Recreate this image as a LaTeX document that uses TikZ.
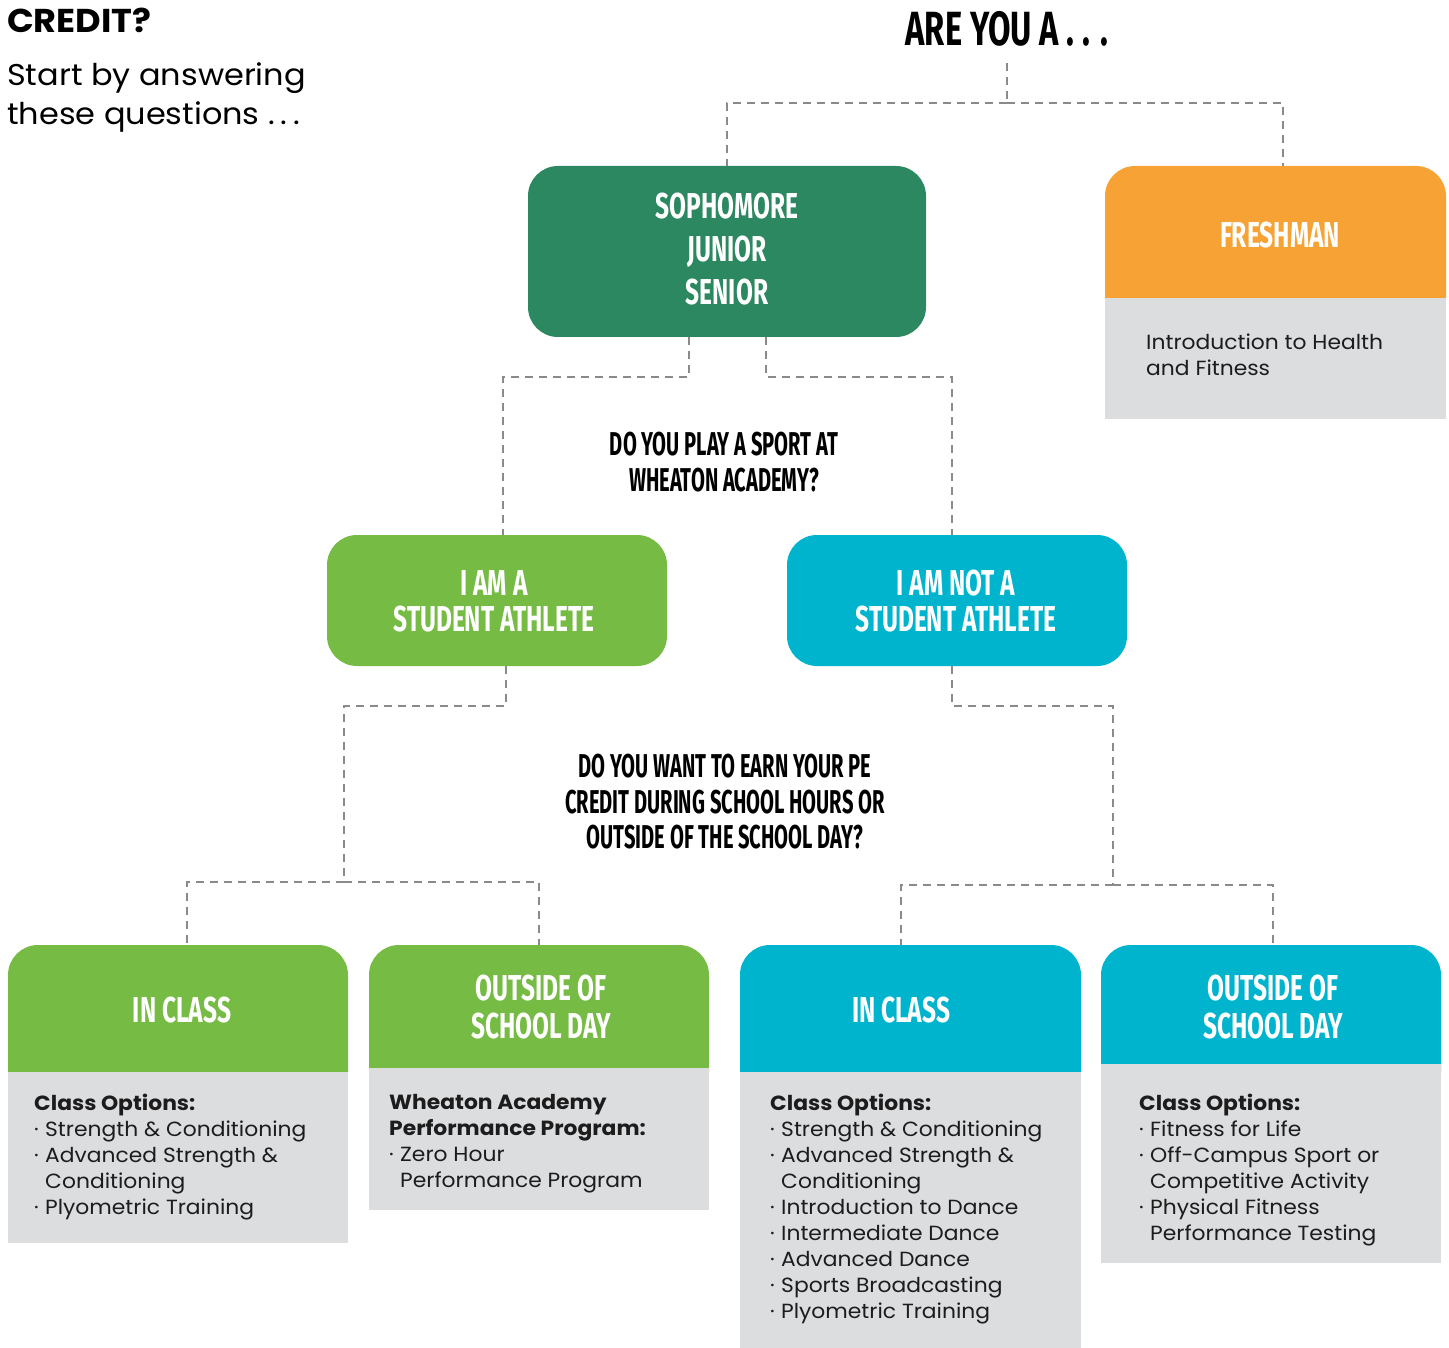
\documentclass[tikz,border=0pt]{standalone}
\usepackage{fontspec}
\setmainfont[FakeStretch=1.065]{Poppins}
\newfontfamily\headfont[FakeStretch=0.68]{Fira Sans}
\newfontfamily\qfont[FakeStretch=0.61]{Fira Sans}
\definecolor{dgreen}{RGB}{44,136,96}
\definecolor{lgreen}{RGB}{118,187,68}
\definecolor{cyanb}{RGB}{0,180,206}
\definecolor{orangeb}{RGB}{247,162,52}
\definecolor{greyb}{RGB}{220,221,223}
\definecolor{lineg}{RGB}{138,138,138}
\definecolor{ink}{RGB}{28,28,28}
\newcommand\bul{\makebox[11pt][l]{·}}
\newcommand\ind{\hspace*{11pt}}
\newcommand\capst{\rule{0pt}{25pt}}
\newcommand\qst{\rule{0pt}{23pt}}
\newcommand\bodyst{\rule{0pt}{15pt}}
\begin{document}
\begin{tikzpicture}[x=1pt,y=-1pt,
  conn/.style={draw=lineg, line width=2pt, dash pattern=on 8pt off 6pt},
  boxr/.style={rectangle, rounded corners=30pt, inner sep=0pt, draw=none},
  greyrect/.style={rectangle, fill=greyb, inner sep=0pt, draw=none},
  hd/.style={font=\headfont\bfseries\fontsize{36}{38}\selectfont, text=white, align=center, anchor=north, inner sep=0pt},
  qtext/.style={font=\qfont\bfseries\fontsize{33}{36}\selectfont, text=black, align=center, anchor=north, inner sep=0pt},
  bodyt/.style={font=\fontsize{20.5}{26}\selectfont, text=ink, align=left, anchor=north west, inner sep=0pt}]
\useasboundingbox (0,0) rectangle (1449,1348);

% titles
\node[anchor=base west, inner sep=0pt, font=\bfseries\fontsize{33}{40}\selectfont, text=black] (credit) at (7,33) {CREDIT?};
\node[anchor=north west, inner sep=0pt, align=left, font=\fontsize{30}{39}\selectfont, text=black] (start) at (7,62) {\rule{0pt}{21.5pt}Start by answering\\these questions .\kern6pt.\kern6pt.};
\node[anchor=base, inner sep=0pt, font=\headfont\bfseries\fontsize{48}{50}\selectfont, text=black] (are) at (1007,46) {ARE YOU A . . .};

% level 1
\node[boxr, fill=dgreen, minimum width=398, minimum height=171] (soph) at (727,251.5) {};
\node[hd, font=\headfont\bfseries\fontsize{36}{43}\selectfont] (sopht) at (727,193) {\capst SOPHOMORE\\JUNIOR\\SENIOR};

\node[boxr, fill=orangeb, minimum width=341, minimum height=162] (fresh) at (1275.5,247) {};
\node[greyrect, minimum width=341, minimum height=121] (freshb) at (1275.5,358.5) {};
\node[hd] (fresht) at (1280,222) {\capst FRESHMAN};
\node[bodyt] (freshx) at (1146,334) {\bodyst Introduction to Health\\and Fitness};

% question 1
\node[qtext] (q1) at (724,432) {\qst DO YOU PLAY A SPORT AT\\WHEATON ACADEMY?};

% level 2
\node[boxr, fill=lgreen, minimum width=340, minimum height=131] (ath) at (497,600.5) {};
\node[hd, font=\headfont\bfseries\fontsize{36}{36}\selectfont] (atht) at (494,570) {\capst I AM A\\STUDENT ATHLETE};
\node[boxr, fill=cyanb, minimum width=340, minimum height=131] (nath) at (957,600.5) {};
\node[hd, font=\headfont\bfseries\fontsize{36}{36}\selectfont] (natht) at (956,570) {\capst I AM NOT A\\STUDENT ATHLETE};

% question 2
\node[qtext, font=\qfont\bfseries\fontsize{33}{35.5}\selectfont] (q2) at (725,754) {\qst DO YOU WANT TO EARN YOUR PE\\CREDIT DURING SCHOOL HOURS OR\\OUTSIDE OF THE SCHOOL DAY?};

% level 3 headers
\node[boxr, fill=lgreen, minimum width=340, minimum height=157] (ic1) at (178,1023.5) {};
\node[boxr, fill=lgreen, minimum width=340, minimum height=157] (os1) at (539,1023.5) {};
\node[boxr, fill=cyanb, minimum width=341, minimum height=157] (ic2) at (910.5,1023.5) {};
\node[boxr, fill=cyanb, minimum width=340, minimum height=157] (os2) at (1271,1023.5) {};

% level 3 bodies
\node[greyrect, minimum width=340, minimum height=171] (ic1b) at (178,1157.5) {};
\node[greyrect, minimum width=340, minimum height=142] (os1b) at (539,1139) {};
\node[greyrect, minimum width=341, minimum height=276] (ic2b) at (910.5,1210) {};
\node[greyrect, minimum width=340, minimum height=199] (os2b) at (1271,1163.5) {};

% level 3 header texts
\node[hd] (ic1t) at (182,997) {\capst IN CLASS};
\node[hd] (os1t) at (541,975) {\capst OUTSIDE OF\\SCHOOL DAY};
\node[hd] (ic2t) at (901,997) {\capst IN CLASS};
\node[hd] (os2t) at (1273,975) {\capst OUTSIDE OF\\SCHOOL DAY};

% level 3 body texts
\node[bodyt] (ic1x) at (34,1094) {\bodyst\textbf{Class Options:}\\\bul Strength \& Conditioning\\\bul Advanced Strength \&\\\ind Conditioning\\\bul Plyometric Training};
\node[bodyt] (os1x) at (389,1094) {\bodyst\textbf{Wheaton Academy}\\\textbf{Performance Program:}\\\bul Zero Hour\\\ind Performance Program};
\node[bodyt] (ic2x) at (770,1094) {\bodyst\textbf{Class Options:}\\\bul Strength \& Conditioning\\\bul Advanced Strength \&\\\ind Conditioning\\\bul Introduction to Dance\\\bul Intermediate Dance\\\bul Advanced Dance\\\bul Sports Broadcasting\\\bul Plyometric Training};
\node[bodyt] (os2x) at (1139,1094) {\bodyst\textbf{Class Options:}\\\bul Fitness for Life\\\bul Off-Campus Sport or\\\ind Competitive Activity\\\bul Physical Fitness\\\ind Performance Testing};

% connectors
\coordinate (j1) at (1007,103);
\draw[conn] ([yshift=-16pt]are.south) -- (j1);
\draw[conn] (j1) -| (soph.north);
\draw[conn] (j1) -| ([xshift=7.5pt]fresh.north);

\draw[conn] ([xshift=-38pt]soph.south) -- ++(0,40) -| ([xshift=6pt]ath.north);
\draw[conn] ([xshift=39pt]soph.south) -- ++(0,40) -| ([xshift=-5pt]nath.north);

\coordinate (j3) at (344,882);
\draw[conn] ([xshift=9pt]ath.south) -- ++(0,40) -| (j3);
\draw[conn] (j3) -| ([xshift=9pt]ic1.north);
\draw[conn] (j3) -| (os1.north);

\coordinate (j4) at (1113,885);
\draw[conn] ([xshift=-5pt]nath.south) -- ++(0,40) -| (j4);
\draw[conn] (j4) -| ([xshift=-9.5pt]ic2.north);
\draw[conn] (j4) -| ([xshift=2pt]os2.north);
\end{tikzpicture}
\end{document}
